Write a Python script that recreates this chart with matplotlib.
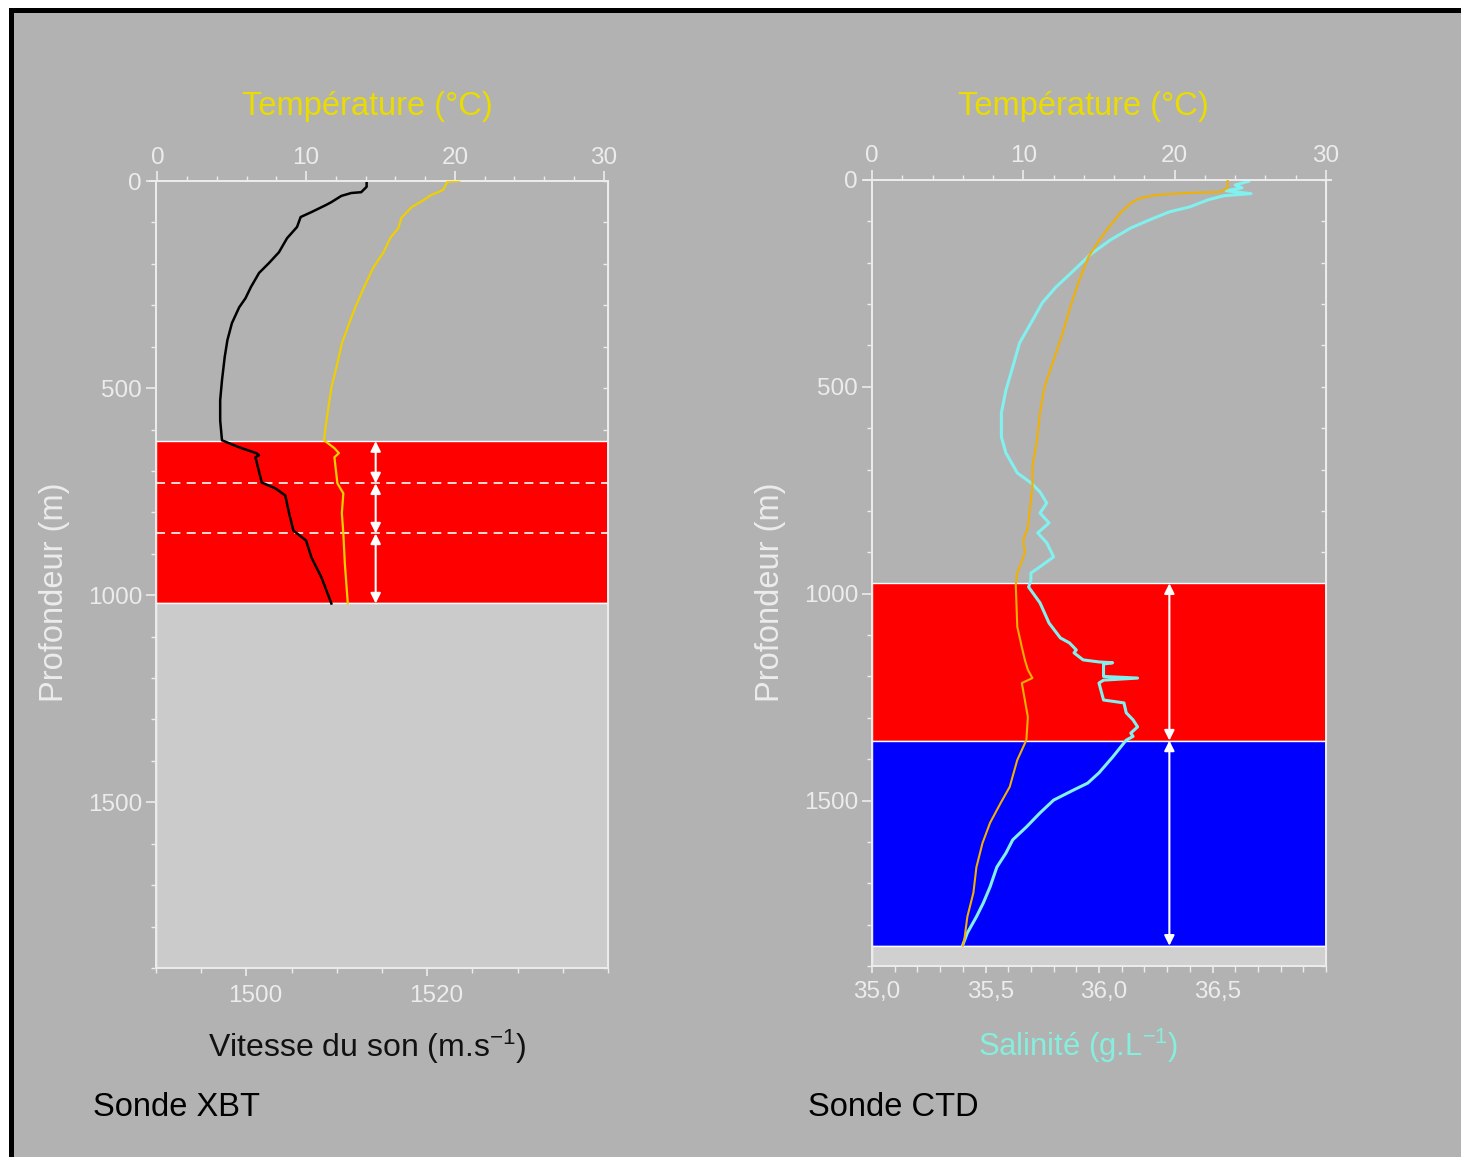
import matplotlib
matplotlib.use("Agg")
import matplotlib.pyplot as plt
from matplotlib.patches import Rectangle
from matplotlib.ticker import FixedLocator, MultipleLocator, FuncFormatter
from matplotlib.transforms import ScaledTranslation

plt.rcParams['font.family'] = ['Liberation Sans', 'DejaVu Sans']
plt.rcParams['mathtext.default'] = 'regular'

# ---------------- data ----------------
# XBT probe: sound speed profile (m/s) vs depth (m)
xbt_speed_depth = [0, 5, 14, 27, 29, 36, 51, 58, 75, 87, 111, 138, 172, 198, 222, 256,
                   283, 305, 343, 384, 425, 481, 529, 578, 626, 643, 657, 662, 667,
                   728, 742, 759, 800, 844, 868, 909, 957, 1020]
xbt_speed = [1513.3, 1513.3, 1513.3, 1512.7, 1511.6, 1510.5, 1509.4, 1508.8, 1507.2,
             1506.0, 1505.6, 1504.5, 1503.6, 1502.5, 1501.4, 1500.5, 1499.9, 1499.2,
             1498.4, 1497.9, 1497.6, 1497.3, 1497.1, 1497.1, 1497.3, 1499.2, 1501.1,
             1501.4, 1501.0, 1501.7, 1503.2, 1504.3, 1504.7, 1505.2, 1506.6, 1507.2,
             1508.3, 1509.4]

# XBT probe: temperature (°C) vs depth (m)
xbt_temp_depth = [0, 2, 8, 22, 34, 46, 63, 89, 114, 135, 172, 210, 256, 305, 343, 392,
                  440, 498, 546, 595, 626, 645, 657, 667, 730, 754, 802, 851, 923, 1020]
xbt_temp = [20.3, 19.5, 19.4, 19.2, 18.4, 17.9, 17.1, 16.4, 16.2, 15.7, 15.2, 14.5,
            13.9, 13.3, 12.9, 12.4, 12.1, 11.7, 11.5, 11.3, 11.2, 11.9, 12.2, 11.9,
            12.1, 12.5, 12.4, 12.5, 12.6, 12.8]

# CTD probe: temperature (°C) vs depth (m)
ctd_temp_depth = [0, 5, 19, 29, 31, 36, 44, 56, 80, 121, 152, 186, 242, 307, 370, 435,
                  500, 563, 629, 694, 742, 805, 839, 870, 902, 950, 979, 1080, 1129,
                  1160, 1184, 1204, 1216, 1257, 1298, 1354, 1402, 1467, 1506, 1554,
                  1603, 1661, 1723, 1781, 1837, 1851]
ctd_temp = [23.5, 23.5, 23.5, 23.0, 21.0, 18.8, 17.7, 17.1, 16.4, 15.5, 14.9, 14.3,
            13.7, 13.1, 12.6, 12.0, 11.4, 11.1, 10.9, 10.6, 10.6, 10.4, 10.3, 10.0,
            10.1, 9.6, 9.5, 9.6, 9.9, 10.1, 10.3, 10.6, 9.9, 10.1, 10.3, 10.2, 9.6,
            9.1, 8.5, 7.8, 7.3, 6.9, 6.7, 6.3, 6.1, 6.0]

# CTD probe: salinity (g/L) vs depth (m)
ctd_sal_depth = [3, 12, 19, 26, 33, 38, 48, 65, 77, 97, 116, 145, 181, 218, 259, 297,
                 346, 394, 452, 508, 563, 621, 660, 708, 732, 754, 781, 805, 829, 853,
                 877, 911, 935, 950, 967, 984, 1022, 1071, 1107, 1119, 1136, 1143, 1160,
                 1165, 1167, 1170, 1184, 1200, 1204, 1209, 1216, 1257, 1264, 1288, 1305,
                 1322, 1337, 1345, 1354, 1395, 1433, 1458, 1474, 1499, 1530, 1564, 1595,
                 1627, 1661, 1709, 1748, 1781, 1820, 1849]
ctd_sal = [36.66, 36.60, 36.63, 36.56, 36.67, 36.55, 36.48, 36.40, 36.31, 36.22, 36.14,
           36.05, 35.96, 35.89, 35.81, 35.75, 35.70, 35.65, 35.62, 35.59, 35.57, 35.57,
           35.59, 35.64, 35.70, 35.74, 35.77, 35.74, 35.78, 35.73, 35.77, 35.80, 35.74,
           35.70, 35.70, 35.69, 35.74, 35.78, 35.83, 35.87, 35.90, 35.89, 35.93, 36.00,
           36.06, 36.02, 36.02, 36.02, 36.17, 36.02, 36.00, 36.02, 36.11, 36.12, 36.15,
           36.17, 36.14, 36.15, 36.12, 36.06, 36.00, 35.95, 35.89, 35.80, 35.74, 35.68,
           35.62, 35.59, 35.55, 35.52, 35.49, 35.46, 35.42, 35.40]

# Water layers (depth ranges, m)
xbt_layers = [628, 730, 851, 1020]       # red zone split by dashed lines
ctd_red = (975, 1355)
ctd_blue = (1355, 1851)
max_depth = 1900

# Tick values
depth_major = [0, 500, 1000, 1500]
temp_major = [0, 10, 20, 30]
speed_major = [1500, 1520]
sal_major = [35.0, 35.5, 36.0, 36.5]

# ---------------- style ----------------
W, H = 1461, 1157
BG = '#b2b2b2'
LIGHT = '#ececec'
YELLOW_TXT = '#eadc00'
CYAN_TXT = '#86eedc'
CYAN = '#82f0ee'
LGRAY = '#cbcbcb'
FS = 23.5
TFS = 17.5


def fx(x):
    return x / W


def fy(y):
    return 1 - y / H


fig = plt.figure(figsize=(W / 100, H / 100), dpi=100, facecolor='white')
# gray panel with black frame, behind everything
fig.patches.append(Rectangle((fx(10.5), -0.05), 1.2, fy(10.5) + 0.05,
                             transform=fig.transFigure, facecolor=BG,
                             edgecolor='black', linewidth=3.6, zorder=-10))


def shift_labels(labels, dx_px):
    off = ScaledTranslation(dx_px / 100, 0, fig.dpi_scale_trans)
    for lab in labels:
        lab.set_transform(lab.get_transform() + off)


def style_axes(ax, axt, xmin, xmax):
    ax.set_facecolor('none')
    ax.set_ylim(max_depth, 0)
    ax.set_xlim(xmin, xmax)
    for sp in ax.spines.values():
        sp.set_color(LIGHT)
        sp.set_linewidth(1.4)
    for sp in axt.spines.values():
        sp.set_color(LIGHT)
        sp.set_linewidth(1.4)
    ax.yaxis.set_major_locator(FixedLocator(depth_major))
    ax.yaxis.set_minor_locator(MultipleLocator(100))
    ax.tick_params(axis='y', which='major', direction='out', length=7, width=1.2,
                   color=LIGHT, labelcolor=LIGHT, labelsize=TFS, pad=3)
    ax.tick_params(axis='y', which='minor', direction='out', length=3.5, width=1.0,
                   color=LIGHT)
    sec = ax.secondary_yaxis('right')
    sec.spines['right'].set_color(LIGHT)
    sec.yaxis.set_major_locator(FixedLocator(depth_major))
    sec.yaxis.set_minor_locator(MultipleLocator(100))
    sec.tick_params(axis='y', which='both', direction='in', length=3.5, width=1.0,
                    color=LIGHT, labelright=False)
    # top temperature axis
    axt.set_xlim(-0.1, 30.3)
    axt.xaxis.set_major_locator(FixedLocator(temp_major))
    axt.xaxis.set_minor_locator(MultipleLocator(2))
    axt.tick_params(axis='x', which='major', direction='out', length=7, width=1.2,
                    color=LIGHT, labelcolor=LIGHT, labelsize=TFS, pad=2)
    axt.tick_params(axis='x', which='minor', direction='out', length=3.5, width=1.0,
                    color=LIGHT)
    axt.spines['top'].set_bounds(-0.5, 30.3)


def arrows(ax, x, bounds):
    for top, bot in bounds:
        ax.annotate('', xy=(x, bot), xytext=(x, top),
                    arrowprops=dict(arrowstyle='<|-|>', color='white', lw=1.5,
                                    mutation_scale=15, shrinkA=0, shrinkB=0),
                    zorder=3)


# ---------------- XBT panel ----------------
ax1 = fig.add_axes([fx(156), fy(968), fx(608) - fx(156), fy(181) - fy(968)])
ax1t = ax1.twiny()
style_axes(ax1, ax1t, 1490, 1540)

ax1.add_patch(Rectangle((1490, xbt_layers[0]), 50, xbt_layers[-1] - xbt_layers[0],
                        facecolor='#ff0000', edgecolor='white', linewidth=1.0, zorder=1))
ax1.add_patch(Rectangle((1490, xbt_layers[-1]), 50, max_depth - xbt_layers[-1],
                        facecolor=LGRAY, edgecolor='white', linewidth=1.0, zorder=1))
for d in xbt_layers[1:-1]:
    ax1.axhline(d, color='#f4ece4', lw=1.3, ls=(0, (5, 3.5)), zorder=2)
arrows(ax1, 1514.3, list(zip(xbt_layers[:-1], xbt_layers[1:])))

ax1.plot(xbt_speed, xbt_speed_depth, color='black', lw=1.8, zorder=4)
ax1t.plot(xbt_temp, xbt_temp_depth, color='#f0cf00', lw=1.6, zorder=4)

ax1.xaxis.set_major_locator(FixedLocator(speed_major))
ax1.xaxis.set_minor_locator(MultipleLocator(5))
ax1.tick_params(axis='x', which='major', direction='out', length=6, width=1.2,
                color=LIGHT, labelcolor=LIGHT, labelsize=TFS, pad=6)
ax1.tick_params(axis='x', which='minor', direction='out', length=3.5, width=1.0,
                color=LIGHT)
shift_labels(ax1.get_xticklabels(), 9)

# ---------------- CTD panel ----------------
ax2 = fig.add_axes([fx(872), fy(966), fx(1326) - fx(872), fy(180) - fy(966)])
ax2t = ax2.twiny()
style_axes(ax2, ax2t, 35.0, 37.0)
ax2t.set_xlim(0, 30)

ax2.add_patch(Rectangle((35.0, ctd_red[0]), 2.0, ctd_red[1] - ctd_red[0],
                        facecolor='#ff0000', edgecolor='white', linewidth=1.0, zorder=1))
ax2.add_patch(Rectangle((35.0, ctd_blue[0]), 2.0, ctd_blue[1] - ctd_blue[0],
                        facecolor='#0000ff', edgecolor='white', linewidth=1.0, zorder=1))
ax2.add_patch(Rectangle((35.0, ctd_blue[1]), 2.0, max_depth - ctd_blue[1],
                        facecolor='#d0d0d0', edgecolor='white', linewidth=1.0, zorder=1))
arrows(ax2, 36.31, [ctd_red, ctd_blue])

ax2.plot(ctd_sal, ctd_sal_depth, color=CYAN, lw=2.2, zorder=4)
ax2t.plot(ctd_temp, ctd_temp_depth, color='#f2b000', lw=1.5, zorder=4)

ax2.xaxis.set_major_locator(FixedLocator(sal_major))
ax2.xaxis.set_minor_locator(MultipleLocator(0.1))
ax2.xaxis.set_major_formatter(FuncFormatter(lambda v, p: f"{v:.1f}".replace('.', ',')))
ax2.tick_params(axis='x', which='major', direction='out', length=5, width=1.2,
                color=LIGHT, labelcolor=LIGHT, labelsize=TFS, pad=6)
ax2.tick_params(axis='x', which='minor', direction='out', length=4, width=1.0,
                color=LIGHT)
shift_labels(ax2.get_xticklabels(), 5)

# ---------------- texts ----------------
fig.text(fx(367), fy(107), 'Température (°C)', color=YELLOW_TXT, fontsize=FS,
         ha='center', va='center')
fig.text(fx(1083), fy(107), 'Température (°C)', color=YELLOW_TXT, fontsize=FS,
         ha='center', va='center')
fig.text(fx(55), fy(592), 'Profondeur (m)', color=LIGHT, fontsize=FS,
         ha='center', va='center', rotation=90)
fig.text(fx(770), fy(592), 'Profondeur (m)', color=LIGHT, fontsize=FS,
         ha='center', va='center', rotation=90)
fig.text(fx(367), fy(1047), 'Vitesse du son (m.s$^{-1}$)', color='#111111',
         fontsize=23, ha='center', va='center')
fig.text(fx(1078), fy(1046), 'Salinité (g.L$^{-1}$)', color=CYAN_TXT,
         fontsize=22.3, ha='center', va='center')
fig.text(fx(93), fy(1108), 'Sonde XBT', color='black', fontsize=FS,
         ha='left', va='center')
fig.text(fx(808), fy(1108), 'Sonde CTD', color='black', fontsize=FS,
         ha='left', va='center')

fig.savefig('out.png', dpi=100, facecolor='white')
